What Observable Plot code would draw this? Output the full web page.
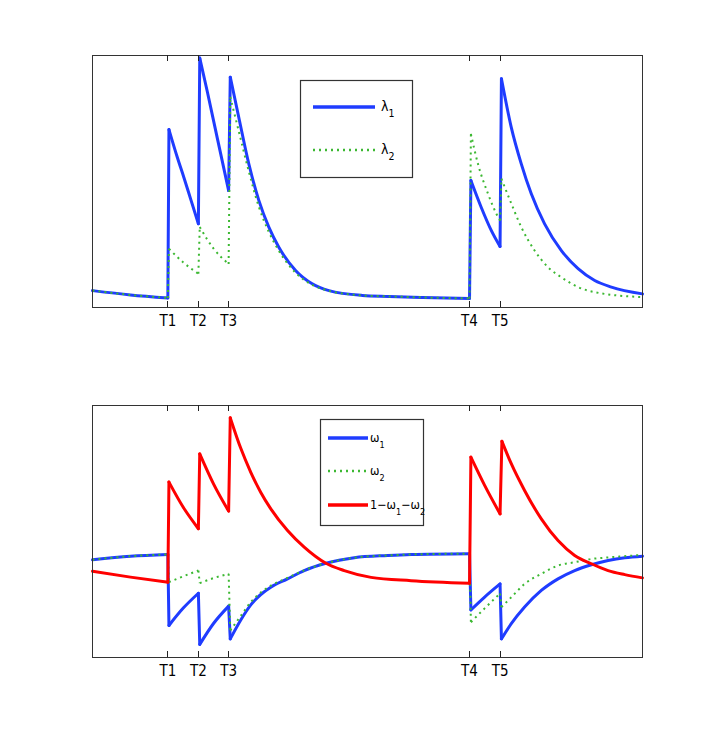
<!DOCTYPE html>
<html><head><meta charset="utf-8">
<script src="https://cdn.jsdelivr.net/npm/d3@7"></script>
<script src="https://cdn.jsdelivr.net/npm/@observablehq/plot@0.6"></script>
<style>
body{margin:0;background:#fff;}
#c{width:709px;height:739px;}
#c svg{display:block;}
</style></head><body><div id="c"></div>
<script>
// event times (x position of tick marks) and their labels
const tickTimes = [13.7, 19.25, 24.75, 68.55, 74.1];
const tickLabels = ["T1", "T2", "T3", "T4", "T5"];

// top panel: intensities  [time, value]
const lambda1 = [
  [0,0.067],[6.9,0.050],[13.7,0.038],
  [13.9,0.706],[15.43,0.595],[16.63,0.515],[17.85,0.43],[19.25,0.332],
  [19.5,0.99],[20.89,0.855],[22.71,0.67],[24.75,0.464],
  [25.05,0.914],[26.59,0.755],[28.42,0.570],[30.24,0.425],[32.06,0.319],[33.88,0.239],[36.92,0.147],[39.95,0.094],[42.99,0.067],[49.05,0.048],[53.92,0.044],[60,0.040],[68.55,0.036],
  [68.8,0.504],[70.67,0.398],[72.5,0.306],[74.1,0.242],
  [74.35,0.908],[76.14,0.715],[77.96,0.570],[79.78,0.451],[82.2,0.332],[85.25,0.226],[88.29,0.154],[91.31,0.107],[94.35,0.081],[100,0.054]
];
const lambda2 = [
  [0,0.067],[6.9,0.050],[13.7,0.038],
  [13.9,0.233],[16.5,0.179],[19.25,0.134],
  [19.5,0.319],[22,0.234],[24.75,0.173],
  [25.05,0.835],[26.59,0.70],[28.42,0.54],[30.24,0.40],[32.06,0.30],[33.88,0.225],[36.92,0.138],[39.95,0.090],[42.99,0.066],[49.05,0.048],[53.92,0.044],[60,0.040],[68.55,0.036],
  [68.8,0.689],[70.07,0.571],[71.9,0.452],[73.41,0.373],[74.1,0.345],
  [74.35,0.511],[76.14,0.413],[77.96,0.319],[80.38,0.226],[82.82,0.160],[85.25,0.120],[88.29,0.081],[91.31,0.061],[100,0.041]
];

// bottom panel: weights  [time, value]
const omega1 = [
  [0,0.388],[6.9,0.402],[13.7,0.409],
  [13.9,0.127],[16.5,0.196],[19.25,0.255],
  [19.5,0.052],[22,0.135],[24.75,0.204],
  [25.05,0.074],[26.96,0.149],[28.78,0.209],[30.6,0.25],[32.42,0.279],[35.46,0.312],[38.49,0.345],[42.44,0.374],[47.6,0.396],[53.68,0.405],[57.92,0.409],[68.55,0.412],
  [68.8,0.189],[71.3,0.24],[74.1,0.292],
  [74.35,0.074],[76.14,0.134],[78.56,0.200],[81.6,0.266],[84.64,0.312],[87.67,0.345],[90.71,0.368],[93.75,0.385],[96.78,0.396],[100,0.402]
];
const omega2 = [
  [0,0.388],[6.9,0.402],[13.7,0.409],
  [13.9,0.299],[16.5,0.322],[19.25,0.345],
  [19.5,0.295],[22,0.315],[24.75,0.332],
  [25.05,0.107],[26.96,0.165],[28.78,0.22],[30.6,0.258],[32.42,0.285],[35.46,0.316],[38.49,0.346],[42.44,0.374],[47.6,0.396],[53.68,0.405],[57.92,0.409],[68.55,0.412],
  [68.8,0.140],[71.3,0.195],[74.1,0.254],
  [74.35,0.20],[76.14,0.239],[78.56,0.292],[81.6,0.332],[84.64,0.365],[87.67,0.378],[90.71,0.391],[93.75,0.397],[100,0.407]
];
const omegaRest = [
  [0,0.342],[6.9,0.319],[13.7,0.299],
  [13.9,0.696],[16.5,0.596],[19.25,0.511],
  [19.5,0.808],[22,0.689],[24.75,0.581],
  [25.05,0.951],[26.96,0.83],[28.78,0.735],[30.6,0.655],[32.42,0.590],[35.46,0.504],[38.49,0.438],[42.44,0.374],[45.77,0.345],[50.64,0.318],[57.92,0.305],[68.55,0.295],
  [68.8,0.795],[71.3,0.683],[74.1,0.570],
  [74.44,0.858],[76.14,0.769],[78.56,0.663],[81.6,0.550],[84.64,0.464],[87.67,0.405],[90.71,0.372],[93.75,0.345],[96.78,0.329],[100,0.316]
];

const BLUE = "#1f3cff", GREEN = "#3cb832", RED = "#ff0000";
const FONT = "'Liberation Sans Narrow', 'DejaVu Sans Condensed', 'Liberation Sans', Arial, sans-serif";

// split a series into smooth pieces plus straight jump pieces
function toSegments(points) {
  const out = []; let seg = 0;
  for (let i = 0; i < points.length; i++) {
    const [t, v] = points[i], next = points[i + 1];
    out.push({seg, t, v});
    if (next && next[0] - t < 0.5) {
      seg++;
      out.push({seg, t, v});
      out.push({seg, t: next[0], v: next[1]});
      seg++;
    }
  }
  return out;
}

function panel({height, marginTop, marginBottom, series, legend}) {
  const marks = [];
  for (const s of series) {
    marks.push(Plot.line(toSegments(s.points), {
      x: "t", y: "v", z: "seg", stroke: s.color, strokeWidth: s.width,
      strokeDasharray: s.dash, strokeLinecap: s.dash ? "butt" : "round",
      curve: "monotone-x"
    }));
  }
  marks.push(Plot.frame({stroke: "#333", strokeWidth: 1}));
  marks.push(Plot.axisX({
    ticks: tickTimes, tickFormat: d => tickLabels[tickTimes.indexOf(d)],
    tickSize: 0, tickPadding: 8, fontSize: 15, fill: "#000", label: null
  }));
  const plot = Plot.plot({
    width: 709, height, marginLeft: 92, marginRight: 67, marginTop, marginBottom,
    style: {fontFamily: FONT, background: "#fff", overflow: "visible"},
    x: {domain: [0, 100], axis: null},
    y: {domain: [0, 1], axis: null},
    marks
  });
  const svg = d3.select(plot);
  const xs = plot.scale("x");
  const yBot = height - marginBottom, yTop = marginTop;
  const tg = svg.append("g").attr("stroke", "#222").attr("stroke-width", 1);
  for (const t of tickTimes) {
    const px = Math.round(xs.apply(t)) + 0.5;
    tg.append("line").attr("x1", px).attr("x2", px).attr("y1", yBot).attr("y2", yBot - 6);
    tg.append("line").attr("x1", px).attr("x2", px).attr("y1", yTop).attr("y2", yTop + 6);
  }
  // legend
  const g = svg.append("g").attr("font-family", FONT).attr("text-anchor", "start");
  g.append("rect").attr("x", legend.x + 0.5).attr("y", legend.y + 0.5)
    .attr("width", legend.w).attr("height", legend.h)
    .attr("fill", "#fff").attr("stroke", "#333").attr("stroke-width", 1.2);
  legend.items.forEach((it, i) => {
    const s = series[i];
    const y = legend.rows[i];
    g.append("line").attr("x1", legend.lx1).attr("x2", legend.lx2).attr("y1", y).attr("y2", y)
      .attr("stroke", s.color).attr("stroke-width", s.width + 0.5)
      .attr("stroke-dasharray", s.dash || null);
    const text = g.append("text").attr("x", legend.tx).attr("y", y + 4)
      .attr("font-size", legend.fs).attr("fill", "#000");
    let shifted = false;
    for (const [str, sub] of it) {
      const ts = text.append("tspan").text(str);
      if (sub && !shifted) { ts.attr("dy", 6).attr("font-size", legend.fs - 3.5); shifted = true; }
      else if (!sub && shifted) { ts.attr("dy", -6); shifted = false; }
      else if (sub) ts.attr("font-size", legend.fs - 3.5);
    }
  });
  return plot;
}

const root = document.getElementById("c");
root.appendChild(panel({
  height: 370, marginTop: 55, marginBottom: 63,
  series: [
    {points: lambda1, color: BLUE, width: 3},
    {points: lambda2, color: GREEN, width: 2, dash: "2,4"}
  ],
  legend: {x: 300, y: 80, w: 112, h: 97, lx1: 313, lx2: 375, tx: 381, fs: 14, rows: [107, 150],
    items: [[["λ", false], ["1", true]], [["λ", false], ["2", true]]]}
}));
root.appendChild(panel({
  height: 369, marginTop: 35, marginBottom: 82,
  series: [
    {points: omega1, color: BLUE, width: 3},
    {points: omega2, color: GREEN, width: 2, dash: "2,4"},
    {points: omegaRest, color: RED, width: 3}
  ],
  legend: {x: 320, y: 49, w: 103, h: 106, lx1: 328, lx2: 368, tx: 370, fs: 12.5, rows: [68, 101, 135],
    items: [[["ω", false], ["1", true]], [["ω", false], ["2", true]],
            [["1−ω", false], ["1", true], ["−ω", false], ["2", true]]]}
}));
</script>
</body></html>
